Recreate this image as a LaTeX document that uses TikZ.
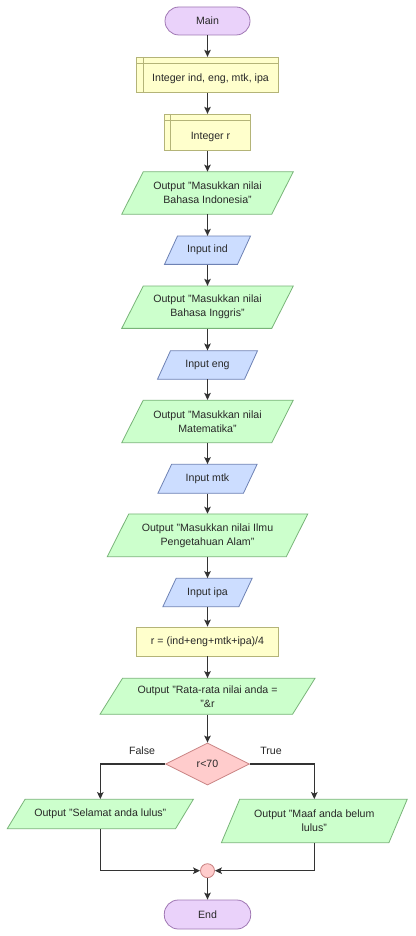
\documentclass[tikz,border=0pt]{standalone}
\usepackage{fontspec}
\setmainfont{Liberation Sans}
\usetikzlibrary{arrows.meta,shapes.geometric}
\definecolor{termfill}{RGB}{234,210,250}
\definecolor{termdraw}{RGB}{160,120,180}
\definecolor{declfill}{RGB}{255,255,204}
\definecolor{decldraw}{RGB}{180,180,120}
\definecolor{outfill}{RGB}{204,255,204}
\definecolor{outdraw}{RGB}{120,180,120}
\definecolor{infill}{RGB}{204,221,255}
\definecolor{indraw}{RGB}{110,130,180}
\definecolor{iffill}{RGB}{255,204,204}
\definecolor{ifdraw}{RGB}{200,130,130}
\definecolor{linec}{RGB}{51,51,51}
\definecolor{textc}{RGB}{40,40,40}
\newcommand\pgram[8]{%
  \filldraw[#1] ({#3-#5/2+#7/2},{#4-#6/2}) -- ++(#5,0) -- ++({-#7},#6) -- ++({-#5},0) -- cycle;
  \node[txt,minimum width=#5,minimum height=#6] (#2) at (#3,#4) {#8};}
\begin{document}
\begin{tikzpicture}[x=1pt,y=-1pt,font=\fontsize{10.6}{14}\selectfont,
  txt/.style={inner sep=0pt,align=center,text=textc},
  arr/.style={draw=linec,line width=1.3pt,-{Stealth[length=7pt,width=6.5pt,inset=1.5pt]}},
  term/.style={txt,draw=termdraw,fill=termfill,line width=0.8pt,rounded corners=14pt},
  decl/.style={draw=decldraw,fill=declfill,line width=0.8pt,inner sep=0pt},
  dline/.style={draw=decldraw,line width=0.8pt},
  outs/.style={draw=outdraw,fill=outfill,line width=0.8pt},
  ins/.style={draw=indraw,fill=infill,line width=0.8pt},
  ifs/.style={txt,diamond,draw=ifdraw,fill=iffill,line width=0.8pt},
  lbl/.style={txt}]
\useasboundingbox[fill=white] (0,0) rectangle (415,936);

\node[term,minimum width=85,minimum height=28] (main) at (207.5,21) {Main};

\node[decl,minimum width=142,minimum height=35.5] (d1) at (207.5,75) {};
\draw[dline] ([xshift=7pt]d1.north west) -- ([xshift=7pt]d1.south west);
\draw[dline] ([yshift=-6.5pt]d1.north west) -- ([yshift=-6.5pt]d1.north east);
\node[txt] (d1t) at (210.5,79) {Integer ind, eng, mtk, ipa};

\node[decl,minimum width=86.5,minimum height=36.5] (d2) at (207.5,132.5) {};
\draw[dline] ([xshift=7pt]d2.north west) -- ([xshift=7pt]d2.south west);
\draw[dline] ([yshift=-6.5pt]d2.north west) -- ([yshift=-6.5pt]d2.north east);
\node[txt] (d2t) at (210.5,136.5) {Integer r};

\pgram{outs}{o1}{207.5}{193}{150}{42.3}{21.5}{Output "Masukkan nilai\\Bahasa Indonesia"}
\pgram{ins}{i1}{207.5}{250.2}{73}{28.3}{13}{Input ind}
\pgram{outs}{o2}{207.5}{307.2}{150}{42.3}{21.5}{Output "Masukkan nilai\\Bahasa Inggris"}
\pgram{ins}{i2}{207.5}{365}{87}{28.5}{13}{Input eng}
\pgram{outs}{o3}{207.5}{421.4}{150}{42.5}{21.5}{Output "Masukkan nilai\\Matematika"}
\pgram{ins}{i3}{207.5}{478.8}{85.5}{29}{13.7}{Input mtk}
\pgram{outs}{o4}{207.5}{535.3}{179}{42.7}{21.5}{Output "Masukkan nilai Ilmu\\Pengetahuan Alam"}
\pgram{ins}{i4}{207.5}{592.5}{76}{28.4}{13.3}{Input ipa}

\node[decl,txt,minimum width=142,minimum height=29] (as) at (207.5,641.5) {r = (ind+eng+mtk+ipa)/4};

\pgram{outs}{o5}{207.5}{696.3}{192.5}{36}{22.5}{Output "Rata-rata nilai anda =\\"\&r}

\node[ifs,minimum width=84,minimum height=42] (dia) at (207.5,764) {r<70};
\node[lbl] (fl) at (142,751) {False};
\node[lbl] (tl) at (271,751) {True};

\pgram{outs}{sel}{100.3}{814}{168.3}{29.4}{17.8}{Output "Selamat anda lulus"}
\pgram{outs}{maaf}{314.3}{821}{167.5}{43.4}{18.3}{Output "Maaf anda belum\\lulus"}

\node[circle,draw=ifdraw,fill=iffill,line width=0.8pt,minimum size=14,inner sep=0pt] (mg) at (207.5,870.7) {};

\node[term,minimum width=86.4,minimum height=29] (end) at (207.5,914.5) {End};

\draw[arr] (main) -- (d1);
\draw[arr] (d1) -- (d2);
\draw[arr] (d2) -- (o1);
\draw[arr] (o1) -- (i1);
\draw[arr] (i1) -- (o2);
\draw[arr] (o2) -- (i2);
\draw[arr] (i2) -- (o3);
\draw[arr] (o3) -- (i3);
\draw[arr] (i3) -- (o4);
\draw[arr] (o4) -- (i4);
\draw[arr] (i4) -- (as);
\draw[arr] (as) -- (o5);
\draw[arr] (o5) -- (dia);
\draw[arr] (dia.west) -| (sel.north);
\draw[arr] (dia.east) -| (maaf.north);
\draw[arr] (sel.south) |- (mg.west);
\draw[arr] (maaf.south) |- (mg.east);
\draw[arr] (mg) -- (end);
\end{tikzpicture}
\end{document}
